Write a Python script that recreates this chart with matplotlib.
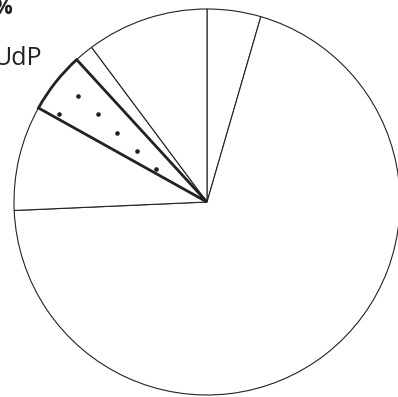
import numpy as np
import matplotlib
matplotlib.use('Agg')
import matplotlib.pyplot as plt

# slice shares, clockwise from 12 o'clock
shares = [4.5, 69.8, 8.8, 5.1, 1.6, 10.2]
highlight = 3          # the dotted slice
label_udp = 'UdP'
label_pct = '%'

W, H = 398, 397
cx, cy, r = 207, 202, 193   # pie centre and radius in pixels

fig = plt.figure(figsize=(W / 100, H / 100), dpi=100)
ax = fig.add_axes([(cx - r) / W, (H - cy - r) / H, 2 * r / W, 2 * r / H])

wedges, _ = ax.pie(shares, startangle=90, counterclock=False, radius=1,
                   colors=['white'] * len(shares),
                   wedgeprops=dict(edgecolor='#222222', linewidth=0.8))
# pie() resets the limits to +-1.25, so set them afterwards
ax.set_xlim(-1, 1)
ax.set_ylim(-1, 1)
ax.set_aspect('equal')
ax.axis('off')
for w in wedges:
    w.set_clip_on(False)

hw = wedges[highlight]
hw.set_linewidth(2.0)
hw.set_zorder(5)

# dot pattern inside the highlighted slice (diamond lattice, pixel spacing)
ii, jj = np.meshgrid(np.arange(-6, 7), np.arange(-6, 7))
px = 59 + 19.5 * (ii + jj)
py = 114 - 18.5 * ii + 18.5 * jj
dx = (px.ravel() - cx) / r
dy = (cy - py.ravel()) / r
keep = np.hypot(dx, dy) < 0.95   # no dots sitting on the rim
dots, = ax.plot(dx[keep], dy[keep], linestyle='none', marker='o', markersize=2.3,
                color='#222222', zorder=6)
dots.set_clip_path(hw)

fig.text(42 / W, 1 - 65 / H, label_udp, ha='right', va='baseline',
         fontsize=18, family=['Open Sans', 'DejaVu Sans'], color='#222222')
fig.text(12 / W, 1 - 14 / H, label_pct, ha='right', va='baseline',
         fontsize=15, fontweight='bold', family=['Open Sans', 'DejaVu Sans'],
         color='#222222')

fig.savefig('out.png', dpi=100, facecolor='white')
